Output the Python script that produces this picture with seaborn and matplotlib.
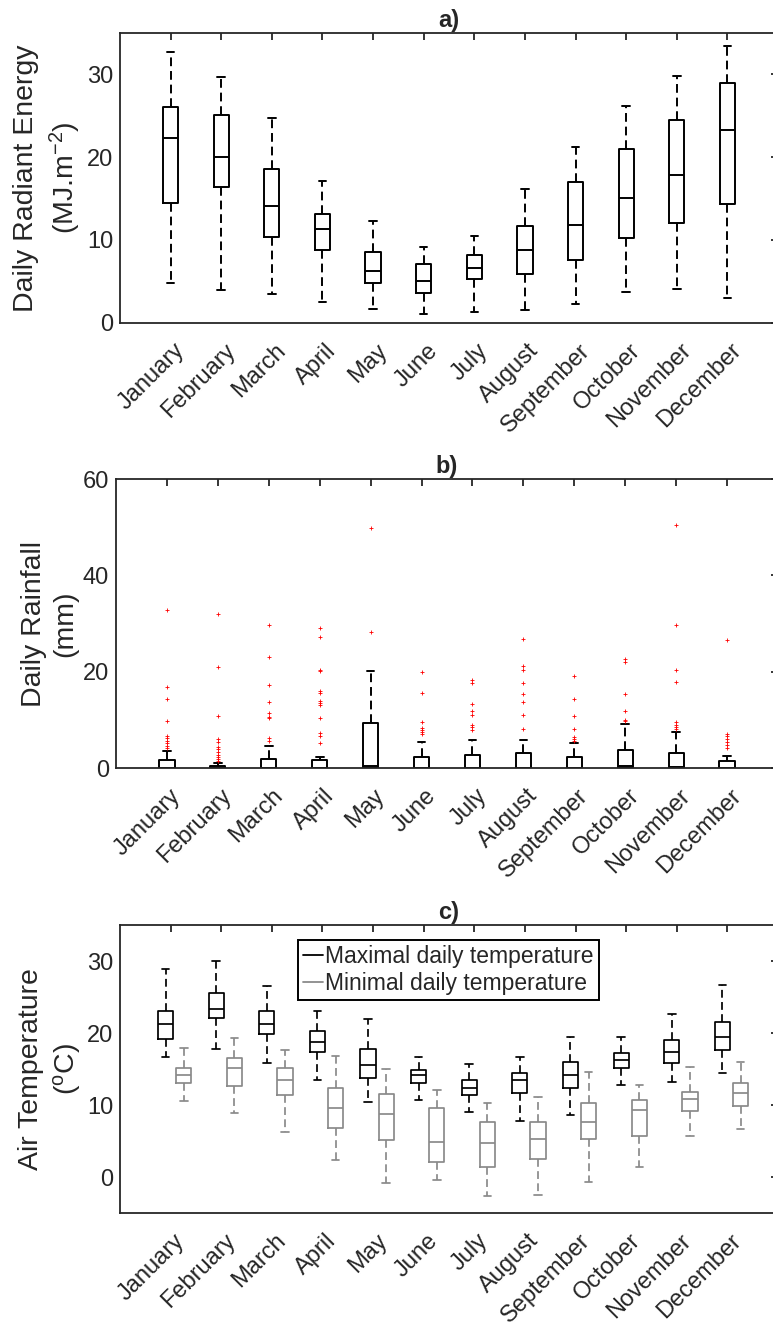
import numpy as np
import pandas as pd
import matplotlib
matplotlib.use("Agg")
import matplotlib.pyplot as plt
import matplotlib.transforms as mtransforms
from matplotlib.lines import Line2D
import seaborn as sns

# ---------------- data ----------------
months = ["January", "February", "March", "April", "May", "June", "July",
          "August", "September", "October", "November", "December"]
month_num = list(range(1, 13))

# a) Daily radiant energy (MJ m-2): lower whisker, Q1, median, Q3, upper whisker
rad_low = [4.8, 4.0, 3.5, 2.5, 1.6, 1.1, 1.3, 1.5, 2.3, 3.7, 4.1, 3.0]
rad_q1 = [14.5, 16.35, 10.3, 8.75, 4.85, 3.55, 5.25, 5.9, 7.6, 10.2, 12.1, 14.4]
rad_med = [22.35, 20.0, 14.1, 11.35, 6.2, 5.05, 6.55, 8.8, 11.75, 15.05, 17.8, 23.3]
rad_q3 = [26.05, 25.1, 18.55, 13.15, 8.55, 7.05, 8.2, 11.65, 16.95, 21.0, 24.5, 28.95]
rad_high = [32.7, 29.65, 24.75, 17.1, 12.25, 9.15, 10.45, 16.1, 21.2, 26.2, 29.8, 33.45]

# b) Daily rainfall (mm)
rain_low = [0, 0, 0, 0, 0, 0, 0, 0, 0, 0, 0, 0]
rain_q1 = [0, 0, 0, 0, 0, 0, 0, 0, 0, 0, 0, 0]
rain_med = [0, 0, 0, 0, 0.5, 0, 0, 0, 0, 0.5, 0.3, 0]
rain_q3 = [1.7, 0.5, 1.8, 1.6, 9.3, 2.35, 2.6, 3.1, 2.2, 3.75, 3.05, 1.4]
rain_high = [3.5, 1.0, 4.5, 2.2, 20.1, 5.5, 5.9, 5.8, 5.1, 9.2, 7.5, 2.55]
rain_outliers = [
    [32.7, 16.8, 14.3, 9.8, 6.7, 6.2, 5.6, 5.1, 4.6, 4.1],
    [31.9, 20.9, 10.7, 6.0, 5.5, 4.4, 3.9, 3.4, 2.8, 2.35, 1.9, 1.45],
    [29.6, 23.1, 17.2, 13.6, 11.4, 10.65, 10.3, 6.15, 5.7],
    [29.0, 27.3, 20.3, 20.1, 15.9, 15.6, 14.0, 13.5, 13.1, 10.45, 7.2, 6.7, 5.1],
    [49.9, 28.2],
    [19.9, 15.5, 9.5, 8.25, 7.95, 7.47, 7.06],
    [18.3, 17.7, 13.2, 11.8, 10.9, 8.9, 8.5, 7.9],
    [26.8, 21.2, 20.3, 17.6, 15.4, 13.6, 11.1, 8.0],
    [19.1, 14.3, 10.7, 8.2, 6.5, 6.1, 5.7],
    [22.6, 22.1, 15.4, 11.8, 10.0, 9.7],
    [50.5, 29.7, 20.4, 17.9, 9.55, 9.0, 8.6, 8.2],
    [26.5, 7.0, 6.6, 5.95, 5.4, 4.7, 4.15],
]

# c) Air temperature (degC)
tmax_low = [16.6, 17.8, 15.8, 13.5, 10.4, 10.7, 9.0, 7.8, 8.6, 12.8, 13.2, 14.4]
tmax_q1 = [19.2, 22.1, 19.8, 17.4, 13.8, 13.0, 11.4, 11.7, 12.4, 15.2, 15.9, 17.7]
tmax_med = [21.3, 23.4, 21.3, 18.8, 15.55, 14.1, 12.3, 13.5, 14.2, 16.3, 17.4, 19.4]
tmax_q3 = [23.1, 25.6, 23.0, 20.3, 17.8, 14.9, 13.5, 14.5, 16.0, 17.2, 19.0, 21.5]
tmax_high = [28.9, 30.0, 26.5, 23.1, 21.9, 16.6, 15.7, 16.7, 19.5, 19.5, 22.7, 26.7]

tmin_low = [10.55, 8.9, 6.2, 2.4, -0.9, -0.4, -2.7, -2.5, -0.75, 1.4, 5.7, 6.7]
tmin_q1 = [13.0, 12.7, 11.4, 6.75, 5.1, 2.1, 1.4, 2.5, 5.3, 5.65, 9.2, 9.9]
tmin_med = [14.2, 15.1, 13.5, 9.6, 8.7, 4.8, 4.7, 5.3, 7.7, 9.25, 10.9, 11.6]
tmin_q3 = [15.1, 16.5, 15.1, 12.3, 11.5, 9.6, 7.7, 7.6, 10.3, 10.7, 11.85, 13.1]
tmin_high = [17.9, 19.3, 17.7, 16.75, 15.0, 12.1, 10.3, 11.15, 14.6, 12.8, 15.3, 16.0]

legend_labels = ["Maximal daily temperature", "Minimal daily temperature"]

# ---------------- style ----------------
sns.set_theme(style="white")
FONT = ["Liberation Sans", "DejaVu Sans"]
TXT = "#262626"
plt.rcParams.update({
    "font.family": FONT,
    "mathtext.fontset": "custom",
    "mathtext.rm": "Liberation Sans",
    "mathtext.it": "Liberation Sans:italic",
    "mathtext.bf": "Liberation Sans:bold",
    "text.color": TXT,
    "axes.labelcolor": TXT,
    "xtick.color": TXT,
    "ytick.color": TXT,
    "axes.edgecolor": TXT,
    "axes.linewidth": 1.3,
    "xtick.direction": "in",
    "ytick.direction": "in",
    "xtick.major.size": 5,
    "ytick.major.size": 5,
    "xtick.major.width": 1.3,
    "ytick.major.width": 1.3,
    "xtick.top": True,
    "ytick.right": True,
})

GRAY = "#8a8a8a"
TICK_FS = 17
LABEL_FS = 20.5

W, H = 773, 1326
fig = plt.figure(figsize=(W / 100, H / 100), dpi=100)


def ax_at(left, top, right, bottom):
    return fig.add_axes([left / W, 1 - bottom / H, (right - left) / W, (bottom - top) / H])


ax_a = ax_at(120, 33, 778, 322.7)
ax_b = ax_at(116, 479, 778, 768)
ax_c = ax_at(120, 925, 778, 1213)


def five_num_frame(pos, low, q1, med, q3, high):
    rows = []
    for p, vals in zip(pos, zip(low, q1, med, q3, high)):
        for v in vals:
            rows.append((p, v))
    return pd.DataFrame(rows, columns=["pos", "value"])


def draw_boxes(ax, df, color, lw):
    sns.boxplot(data=df, x="pos", y="value", native_scale=True, whis=(0, 100),
                width=0.3, fill=False, color=color, linewidth=lw,
                showfliers=False, whiskerprops=dict(linestyle=(0, (4.5, 2.5))),
                ax=ax)


def style_axis(ax, title, ylabel, ylim, yticks):
    ax.set_xlim(0, 13)
    ax.set_ylim(*ylim)
    ax.set_yticks(yticks)
    ax.set_yticklabels([str(t) for t in yticks], fontsize=TICK_FS)
    ax.set_xticks(month_num)
    ax.set_xticklabels(months, fontsize=TICK_FS, rotation=45, ha="right",
                       va="top", rotation_mode="anchor")
    ax.tick_params(axis="x", pad=12)
    ax.tick_params(axis="y", pad=5)
    off = mtransforms.ScaledTranslation(3 / 100, 0, fig.dpi_scale_trans)
    for lab in ax.get_xticklabels():
        lab.set_transform(lab.get_transform() + off)
    ax.set_xlabel("")
    ax.set_ylabel(ylabel, fontsize=LABEL_FS, linespacing=1.3, labelpad=3)
    ax.set_title(title, fontsize=17, fontweight="bold", pad=4)
    for s in ax.spines.values():
        s.set_visible(True)
        s.set_color(TXT)


# a) radiant energy
df_a = five_num_frame(month_num, rad_low, rad_q1, rad_med, rad_q3, rad_high)
draw_boxes(ax_a, df_a, "black", 1.4)
style_axis(ax_a, "a)", "Daily Radiant Energy\n(MJ.m$^{-2}$)", (0, 35), [0, 10, 20, 30])

# b) rainfall
df_b = five_num_frame(month_num, rain_low, rain_q1, rain_med, rain_q3, rain_high)
draw_boxes(ax_b, df_b, "black", 1.4)
out_pos = [m for m, vals in zip(month_num, rain_outliers) for _ in vals]
out_val = [v for vals in rain_outliers for v in vals]
sns.scatterplot(x=out_pos, y=out_val, marker="+", color="red", s=8,
                linewidth=0.6, ax=ax_b, zorder=5)
style_axis(ax_b, "b)", "Daily Rainfall\n(mm)", (0, 60), [0, 20, 40, 60])

# c) temperature
pos_max = [m - 0.1 for m in month_num]
pos_min = [m + 0.26 for m in month_num]
df_cmax = five_num_frame(pos_max, tmax_low, tmax_q1, tmax_med, tmax_q3, tmax_high)
df_cmin = five_num_frame(pos_min, tmin_low, tmin_q1, tmin_med, tmin_q3, tmin_high)
draw_boxes(ax_c, df_cmax, "black", 1.25)
draw_boxes(ax_c, df_cmin, GRAY, 1.25)
style_axis(ax_c, "c)", "Air Temperature\n($^{\\mathrm{o}}$C)", (-5, 35), [0, 10, 20, 30])

handles = [Line2D([0], [0], color="black", lw=1.3), Line2D([0], [0], color=GRAY, lw=1.3)]
leg = ax_c.legend(handles, legend_labels, loc="upper left", bbox_to_anchor=(0.2705, 0.948),
                  borderaxespad=0, fontsize=16.5, frameon=True, fancybox=False,
                  edgecolor="black", handlelength=0.9, handletextpad=0.1,
                  labelspacing=0.2, borderpad=0.2, framealpha=1)
leg.get_frame().set_linewidth(1.4)

fig.savefig("out.png", dpi=100)
